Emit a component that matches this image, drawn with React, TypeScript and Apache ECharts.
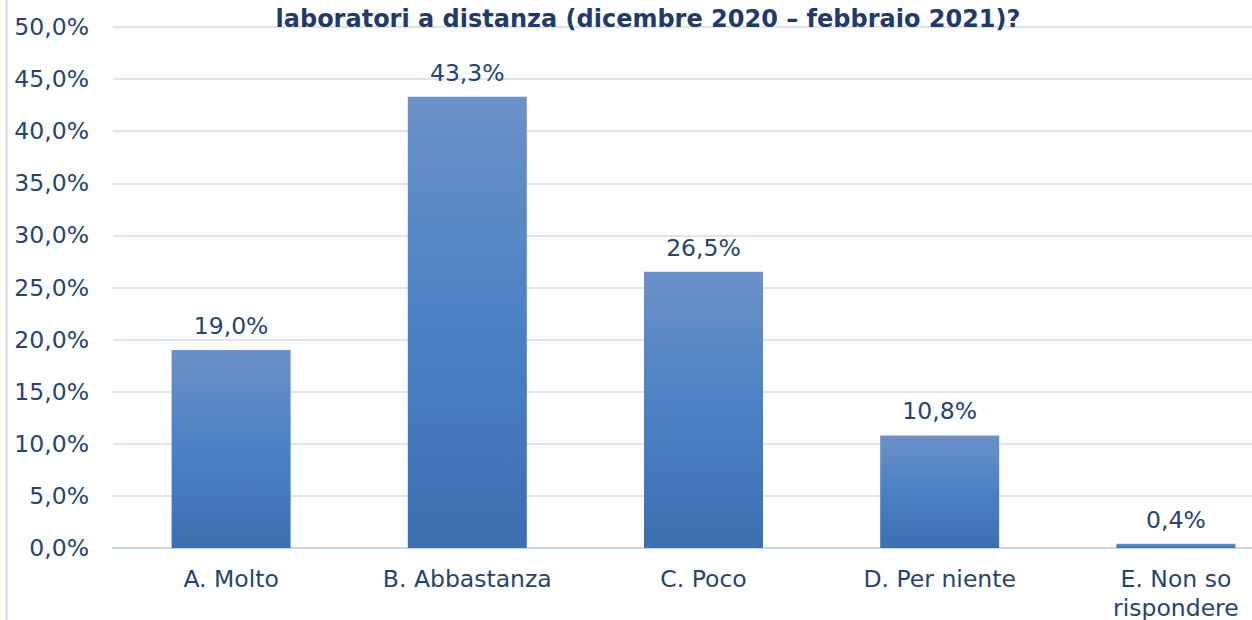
import React, { useEffect, useRef } from "react";
import * as echarts from "echarts";

const categories = ["A. Molto", "B. Abbastanza", "C. Poco", "D. Per niente", "E. Non so\nrispondere"];
const values = [19.0, 43.3, 26.5, 10.8, 0.4];
const titleLine = "laboratori a distanza (dicembre 2020 – febbraio 2021)?";

const fmt = (v: number) => v.toFixed(1).replace(".", ",") + "%";

export default function App() {
  const ref = useRef<HTMLDivElement>(null);
  useEffect(() => {
    if (!ref.current) return;
    const chart = echarts.init(ref.current, undefined, { renderer: "svg" });
    const textColor = "#26446f";
    const font = "DejaVu Sans";
    chart.setOption({
      animation: false,
      backgroundColor: "#ffffff",
      grid: {
        left: 113,
        right: 0,
        top: 27,
        bottom: 72,
        containLabel: false,
        outerBoundsMode: "none",
      },
      xAxis: {
        type: "category",
        data: categories,
        axisLine: { show: true, lineStyle: { color: "#c6d6ee", width: 2 } },
        axisTick: { show: false },
        axisLabel: {
          interval: 0,
          color: textColor,
          fontFamily: font,
          fontSize: 23.5,
          margin: 16,
          lineHeight: 29,
        },
      },
      yAxis: {
        type: "value",
        min: 0,
        max: 50,
        interval: 5,
        axisLine: { show: false },
        axisTick: { show: false },
        splitLine: { lineStyle: { color: "#dbe5f4", width: 2 } },
        axisLabel: {
          color: textColor,
          fontFamily: font,
          fontSize: 23.5,
          margin: 24,
          formatter: (v: number) => fmt(v),
        },
      },
      series: [
        {
          type: "bar",
          data: values,
          barWidth: 119,
          itemStyle: {
            color: new echarts.graphic.LinearGradient(0, 0, 0, 1, [
              { offset: 0, color: "#6b91c7" },
              { offset: 0.5, color: "#4b81c4" },
              { offset: 1, color: "#3c6fb0" },
            ]),
          },
          label: {
            show: true,
            position: "top",
            distance: 12,
            color: textColor,
            fontFamily: font,
            fontSize: 23.5,
            formatter: (p: any) => fmt(p.value),
          },
        },
      ],
      graphic: [
        {
          type: "line",
          shape: { x1: 6.5, y1: 0, x2: 6.5, y2: 620 },
          style: { stroke: "#c9d9f0", lineWidth: 2 },
        },
        {
          type: "text",
          x: 648,
          y: 19,
          z: 100,
          style: {
            text: titleLine,
            textAlign: "center",
            textVerticalAlign: "middle",
            fill: "#1f3b6b",
            font: "bold 24px 'DejaVu Sans'",
          },
        },
      ],
    });
    return () => chart.dispose();
  }, []);
  return (
    <div style={{ position: "fixed", left: 0, top: 0, width: 1252, height: 620, overflow: "hidden", background: "#fff" }}>
      <div ref={ref} style={{ width: 1294, height: 620 }} />
    </div>
  );
}
